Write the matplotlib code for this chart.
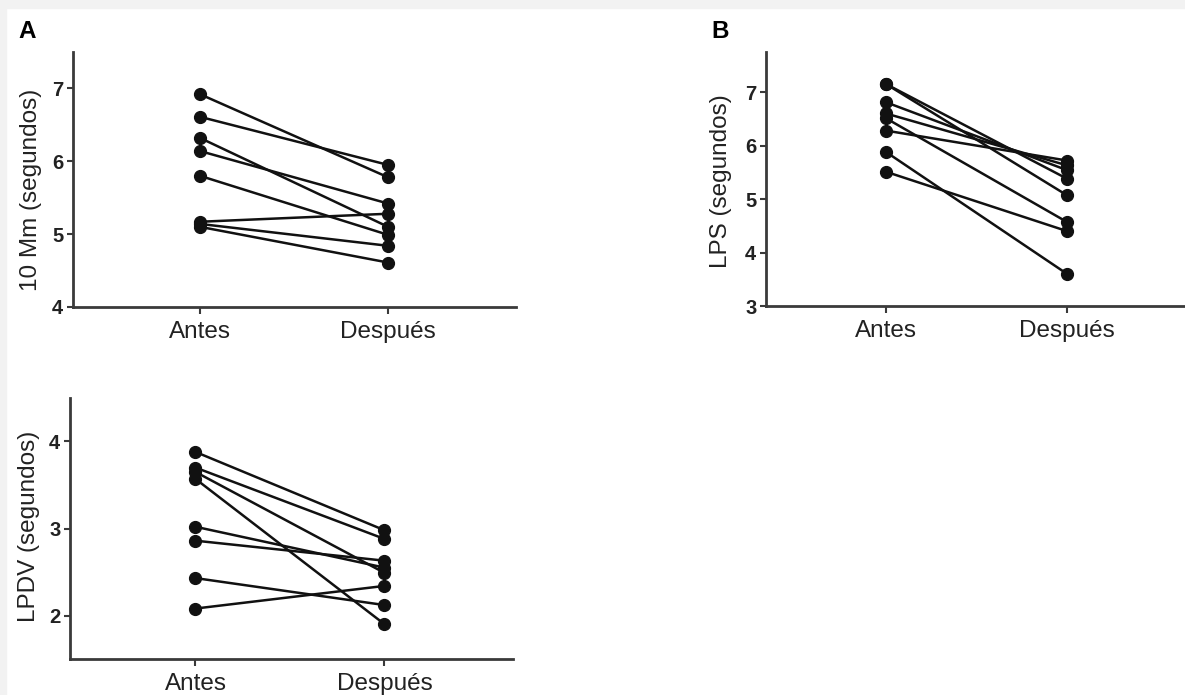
import matplotlib.pyplot as plt
from matplotlib.patches import Rectangle

plt.rcParams['font.family'] = ['Liberation Sans', 'DejaVu Sans']

grupos = ['Antes', 'Después']

# panel A: 10 Mm
a_antes = [6.92, 6.61, 6.32, 6.14, 5.80, 5.17, 5.14, 5.10]
a_despues = [5.78, 5.95, 5.10, 5.42, 4.99, 5.28, 4.84, 4.61]

# panel B: LPS
b_antes = [7.15, 7.15, 6.81, 6.60, 6.51, 6.28, 5.88, 5.51]
b_despues = [5.38, 5.07, 5.54, 5.63, 4.57, 5.72, 3.60, 4.40]

# panel C: LPDV
c_antes = [3.88, 3.70, 3.65, 3.57, 3.02, 2.86, 2.43, 2.08]
c_despues = [2.98, 2.88, 2.49, 1.90, 2.55, 2.63, 2.12, 2.34]

W, H = 1185, 695
fig = plt.figure(figsize=(W / 100, H / 100), dpi=100)
fig.patch.set_facecolor('white')
# gray strip at top and left like the source image
fig.patches.append(Rectangle((0, 1 - 8 / H), 1, 8 / H, transform=fig.transFigure,
                             color='#f2f2f2', zorder=0))
fig.patches.append(Rectangle((0, 0), 6 / W, 1, transform=fig.transFigure,
                             color='#f2f2f2', zorder=0))


def px_axes(left, top, right, bottom):
    return fig.add_axes([left / W, 1 - bottom / H, (right - left) / W, (bottom - top) / H])


def panel(ax, antes, despues, ylim, yticks, ylabel, xlim, labx, laby):
    for y0, y1 in zip(antes, despues):
        ax.plot([0, 1], [y0, y1], color='#111111', lw=1.8, marker='o', ms=8.5,
                solid_capstyle='round', clip_on=False, zorder=3)
    ax.set_xlim(*xlim)
    ax.set_ylim(*ylim)
    ax.set_yticks(yticks)
    ax.set_xticks([0, 1])
    ax.set_xticklabels(grupos, fontsize=17.5, color='#222222')
    for t in ax.get_yticklabels():
        t.set_fontweight('bold')
        t.set_fontsize(14.5)
        t.set_color('#222222')
    ax.set_ylabel(ylabel, fontsize=17.5, color='#222222')
    ax.yaxis.set_label_coords(labx, laby)
    for s in ['top', 'right']:
        ax.spines[s].set_visible(False)
    for s in ['left', 'bottom']:
        ax.spines[s].set_linewidth(2)
        ax.spines[s].set_color('#3a3a3a')
    ax.tick_params(axis='y', length=4.5, width=1.5, color='#3a3a3a', pad=2.5)
    ax.tick_params(axis='x', length=5, width=1.5, color='#3a3a3a', pad=5)
    ax.set_facecolor('none')


ax1 = px_axes(73, 52, 516, 307)
panel(ax1, a_antes, a_despues, (4, 7.5), [4, 5, 6, 7], '10 Mm (segundos)',
      (-0.676, 1.68), -0.07, 0.46)

ax2 = px_axes(766, 52, 1192, 306)
panel(ax2, b_antes, b_despues, (3, 7.75), [3, 4, 5, 6, 7], 'LPS (segundos)',
      (-0.663, 1.69), -0.08, 0.49)

ax3 = px_axes(70, 398, 513, 659)
panel(ax3, c_antes, c_despues, (1.5, 4.5), [2, 3, 4], 'LPDV (segundos)',
      (-0.664, 1.68), -0.068, 0.51)

fig.text(18 / W, 1 - 20 / H, 'A', fontsize=17.5, fontweight='bold', ha='left', va='top')
fig.text(711 / W, 1 - 20 / H, 'B', fontsize=17.5, fontweight='bold', ha='left', va='top')

fig.savefig('out.png', dpi=100)
